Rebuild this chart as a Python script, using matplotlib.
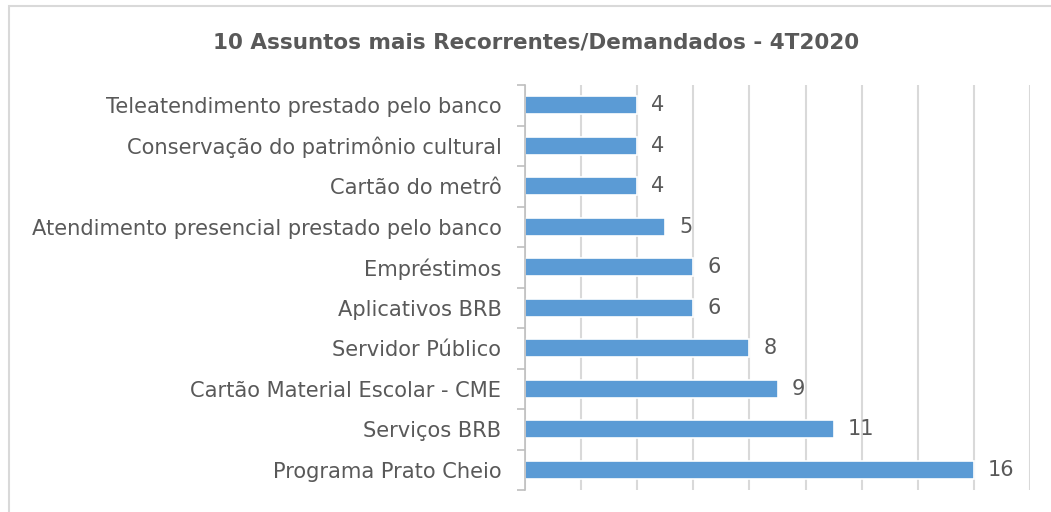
import matplotlib
matplotlib.use("Agg")
import matplotlib.pyplot as plt
from matplotlib.patches import Rectangle
from matplotlib.ticker import FixedLocator, NullFormatter

categories = [
    "Teleatendimento prestado pelo banco",
    "Conservação do patrimônio cultural",
    "Cartão do metrô",
    "Atendimento presencial prestado pelo banco",
    "Empréstimos",
    "Aplicativos BRB",
    "Servidor Público",
    "Cartão Material Escolar - CME",
    "Serviços BRB",
    "Programa Prato Cheio",
]
values = [4, 4, 4, 5, 6, 6, 8, 9, 11, 16]
title = "10 Assuntos mais Recorrentes/Demandados - 4T2020"

TEXT = "#595959"
BAR = "#5B9BD5"
GRID = "#D9D9D9"

W, H = 1051, 512
fig = plt.figure(figsize=(W / 100, H / 100), dpi=100)
fig.patch.set_facecolor("white")

# outer chart border (only top and left visible)
fig.add_artist(Rectangle((8.5 / W, -0.1), 1.2, 1.1 - 5.5 / H, transform=fig.transFigure,
                         fill=False, edgecolor="#D9D9D9", linewidth=1.5))

x0, x1 = 525 / W, 1030 / W
ytop, ybot = 85 / H, 490 / H
ax = fig.add_axes([x0, 1 - ybot, x1 - x0, ybot - ytop])

n = len(categories)
pos = list(range(n))
ax.barh(pos, values, height=0.45, color=BAR, edgecolor="white", linewidth=1.2, zorder=2)
ax.set_ylim(n - 0.5, -0.5)
ax.set_xlim(0, 18)

ax.set_xticks(range(0, 19, 2))
ax.xaxis.grid(True, color=GRID, linewidth=1.5, zorder=0)
ax.tick_params(axis="x", length=0, labelbottom=False)
ax.set_axisbelow(True)

ax.set_yticks(pos)
ax.set_yticklabels(categories, fontsize=15.1, color=TEXT)
ax.tick_params(axis="y", which="major", length=0, pad=17)
ax.yaxis.set_minor_locator(FixedLocator([p - 0.5 for p in pos] + [n - 0.5]))
ax.yaxis.set_minor_formatter(NullFormatter())
ax.tick_params(axis="y", which="minor", length=6, width=1.2, color="#BFBFBF")

for s in ["top", "right", "bottom"]:
    ax.spines[s].set_visible(False)
ax.spines["left"].set_color("#BFBFBF")
ax.spines["left"].set_linewidth(1.2)

for p, v in zip(pos, values):
    ax.annotate(str(v), (v, p), xytext=(10, 0), textcoords="offset points",
                va="center", ha="left", fontsize=15, color=TEXT)

fig.text(536 / W, 1 - 42 / H, title, ha="center", va="center",
         fontsize=15.5, fontweight="bold", color=TEXT)

fig.savefig("out.png", dpi=100, facecolor="white")
